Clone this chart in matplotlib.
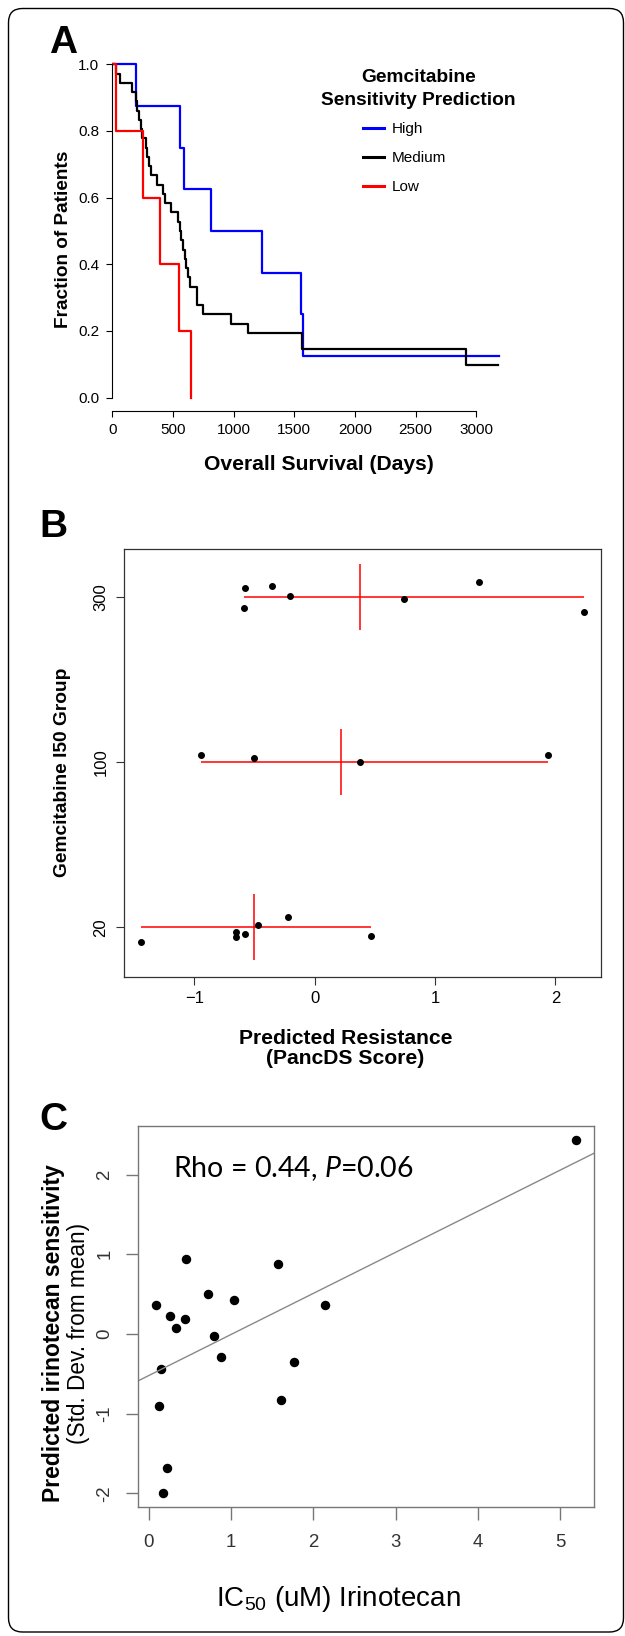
import numpy as np
import matplotlib
matplotlib.use("Agg")
import matplotlib.pyplot as plt
from matplotlib.patches import FancyBboxPatch
from matplotlib.lines import Line2D
from matplotlib.transforms import IdentityTransform

plt.rcParams['font.family'] = ['Liberation Sans', 'DejaVu Sans']
plt.rcParams['mathtext.fontset'] = 'custom'
plt.rcParams['mathtext.rm'] = 'Liberation Sans'
plt.rcParams['mathtext.it'] = 'Lato:italic'

W, H = 625, 1636

# Panel A: Kaplan-Meier curves (day of each drop, survival after the drop)
HIGH_DAYS = [192, 559, 592, 811, 1233, 1552, 1569]
HIGH_SURV = [0.875, 0.75, 0.625, 0.5, 0.375, 0.25, 0.125]
MEDIUM_DAYS = [27, 63, 159, 195, 206, 219, 233, 241, 277, 288,
               301, 315, 370, 419, 433, 480, 543, 556, 570, 584,
               597, 611, 625, 638, 697, 746, 981, 1115, 1561, 2915]
MEDIUM_SURV = [0.972, 0.944, 0.917, 0.889, 0.861, 0.833, 0.806, 0.778, 0.750, 0.722,
               0.694, 0.667, 0.639, 0.611, 0.583, 0.556, 0.528, 0.500, 0.472, 0.444,
               0.417, 0.389, 0.361, 0.333, 0.278, 0.250, 0.222, 0.194, 0.146, 0.097]
LOW_DAYS = [30, 255, 392, 551, 647]
LOW_SURV = [0.8, 0.6, 0.4, 0.2, 0.0]
LAST_DAY = {'High': 3187, 'Medium': 3181, 'Low': 647}
KM_COLORS = {'High': '#0000ff', 'Medium': '#000000', 'Low': '#ff0000'}

# Panel B: PancDS score per IC50 group, with the vertical jitter of each dot
B_GROUPS = ['20', '100', '300']
B_SCORE_20 = [-1.443, -0.653, -0.657, -0.580, -0.468, -0.219, 0.468]
B_JITTER_20 = [-0.091, -0.028, -0.059, -0.038, 0.016, 0.061, -0.053]
B_SCORE_100 = [-0.942, -0.501, 0.378, 1.940]
B_JITTER_100 = [0.044, 0.028, 0.002, 0.046]
B_SCORE_300 = [-0.580, -0.352, -0.209, -0.584, 0.746, 1.367, 2.239]
B_JITTER_300 = [0.057, 0.067, 0.008, -0.063, -0.012, 0.095, -0.091]

# Panel C: irinotecan IC50 vs predicted sensitivity
C_IC50 = [5.193, 0.453, 1.567, 0.723, 1.032, 0.082, 2.136, 0.260, 0.444,
          0.328, 0.796, 0.882, 1.770, 0.145, 1.601, 0.125, 0.222, 0.169]
C_SENS = [2.436, 0.943, 0.882, 0.499, 0.428, 0.362, 0.362, 0.229, 0.189,
          0.071, -0.020, -0.285, -0.352, -0.438, -0.826, -0.902, -1.682, -1.998]
C_FIT = (-0.52, 0.515)  # intercept, slope of the drawn line


def fx(x):
    return x / W


def fy(y):
    return 1 - y / H


def add_axes(fig, left, top, right, bottom):
    return fig.add_axes([fx(left), fy(bottom), (right - left) / W, (bottom - top) / H])


fig = plt.figure(figsize=(W / 100, H / 100), dpi=100)

# rounded frame around the whole figure
frame = FancyBboxPatch((8.5, H - 1632), 615, 1623.5,
                       boxstyle="round,pad=0,rounding_size=14",
                       transform=IdentityTransform(), fill=False,
                       edgecolor='black', linewidth=1.0)
fig.add_artist(frame)

# ---------------- Panel A ----------------
axA = add_axes(fig, 112.3, 51, 500.6, 411)
for name, days, surv in [('High', HIGH_DAYS, HIGH_SURV),
                         ('Medium', MEDIUM_DAYS, MEDIUM_SURV),
                         ('Low', LOW_DAYS, LOW_SURV)]:
    xs = [0] + days + [LAST_DAY[name]]
    ys = [1.0] + surv + [surv[-1]]
    axA.step(xs, ys, where='post', color=KM_COLORS[name], linewidth=1.6)

axA.set_xlim(0, 3200)
axA.set_ylim(-0.04, 1.04)
axA.spines['top'].set_visible(False)
axA.spines['right'].set_visible(False)
axA.spines['left'].set_bounds(0, 1)
axA.spines['bottom'].set_bounds(0, 3000)
for s in ['left', 'bottom']:
    axA.spines[s].set_linewidth(0.8)
axA.set_xticks(np.arange(0, 3001, 500))
axA.set_yticks(np.arange(0, 1.01, 0.2))
axA.set_yticklabels(['%.1f' % v for v in np.arange(0, 1.01, 0.2)])
axA.tick_params(axis='both', direction='out', length=4.5, width=0.8, labelsize=11)
axA.tick_params(axis='y', pad=5)
axA.tick_params(axis='x', pad=4)

fig.text(fx(64), fy(239), 'Fraction of Patients', rotation=90, ha='center',
         va='center', fontsize=13.7, fontweight='bold')
fig.text(fx(319), fy(470), 'Overall Survival (Days)', ha='center',
         va='baseline', fontsize=15.2, fontweight='bold')

# legend drawn by hand to keep its layout
fig.text(fx(418.3), fy(81.7), 'Gemcitabine', ha='center', va='baseline',
         fontsize=13.8, fontweight='bold')
fig.text(fx(418.3), fy(105), 'Sensitivity Prediction', ha='center', va='baseline',
         fontsize=13.8, fontweight='bold')
for name, ly in [('High', 127.7), ('Medium', 156.7), ('Low', 185.7)]:
    fig.add_artist(Line2D([fx(362.5), fx(384)], [fy(ly), fy(ly)],
                          color=KM_COLORS[name], linewidth=2.2))
    fig.text(fx(391.5), fy(ly + 5.5), name, ha='left', va='baseline', fontsize=11)

# ---------------- Panel B ----------------
axB = add_axes(fig, 124.3, 549, 600.8, 976.7)
groups = [(B_SCORE_20, B_JITTER_20), (B_SCORE_100, B_JITTER_100),
          (B_SCORE_300, B_JITTER_300)]
for pos, (scores, jitter) in enumerate(groups, start=1):
    scores = np.array(scores)
    axB.hlines(pos, scores.min(), scores.max(), color='red', linewidth=1.1)
    axB.vlines(scores.mean(), pos - 0.2, pos + 0.2, color='red', linewidth=1.1)
    axB.plot(scores, pos + np.array(jitter), 'o', color='black', markersize=4)

axB.set_xlim(-1.583, 2.378)
axB.set_ylim(0.701, 3.293)
axB.set_xticks([-1, 0, 1, 2])
axB.set_yticks([1, 2, 3])
axB.set_yticklabels(B_GROUPS, rotation=90, va='center')
for s in axB.spines.values():
    s.set_color('#333333')
    s.set_linewidth(0.9)
axB.tick_params(axis='both', direction='out', length=6, width=0.8,
                color='#333333', labelsize=12)
axB.tick_params(axis='y', pad=5.5)
axB.tick_params(axis='x', pad=4)

fig.text(fx(62.5), fy(772), 'Gemcitabine I50 Group', rotation=90, ha='center',
         va='center', fontsize=13.8, fontweight='bold')
fig.text(fx(345.5), fy(1043.5), 'Predicted Resistance', ha='center',
         va='baseline', fontsize=15.2, fontweight='bold')
fig.text(fx(345.5), fy(1064), '(PancDS Score)', ha='center',
         va='baseline', fontsize=15.2, fontweight='bold')

# ---------------- Panel C ----------------
axC = add_axes(fig, 138.3, 1126, 594, 1506.7)
axC.plot(C_IC50, C_SENS, 'o', color='black', markersize=5.8)
axC.axline((0, C_FIT[0]), slope=C_FIT[1], color='#888888', linewidth=1.0)
axC.set_xlim(-0.130, 5.414)
axC.set_ylim(-2.167, 2.610)
axC.set_xticks(range(0, 6))
axC.set_yticks([-2, -1, 0, 1, 2])
axC.set_yticklabels(['-2', '-1', '0', '1', '2'], rotation=90, va='center')
for s in axC.spines.values():
    s.set_color('#777777')
    s.set_linewidth(1.0)
axC.tick_params(axis='both', direction='out', length=9, width=1.0,
                color='#777777', labelcolor='#333333', labelsize=13.4)
axC.tick_params(axis='x', pad=11)
axC.tick_params(axis='y', pad=9)

axC.text(0.076, 0.866, r'Rho = 0.44, $P$=0.06', transform=axC.transAxes,
         family='Lato', fontsize=20.5, ha='left', va='baseline')

fig.text(fx(53.5), fy(1333), 'Predicted irinotecan sensitivity', rotation=90,
         ha='center', va='center', fontsize=16.5, fontweight='bold')
fig.text(fx(79), fy(1333), '(Std. Dev. from mean)', rotation=90,
         ha='center', va='center', fontsize=16.3)
fig.text(fx(338), fy(1606), r'IC$_{50}$ (uM) Irinotecan', ha='center',
         va='baseline', fontsize=20)

# panel letters
fig.text(fx(49), fy(53.3), 'A', fontsize=28, fontweight='bold', va='baseline')
fig.text(fx(39.5), fy(536.7), 'B', fontsize=28, fontweight='bold', va='baseline')
fig.text(fx(39.5), fy(1130), 'C', fontsize=28, fontweight='bold', va='baseline')

fig.savefig('out.png', dpi=100)
